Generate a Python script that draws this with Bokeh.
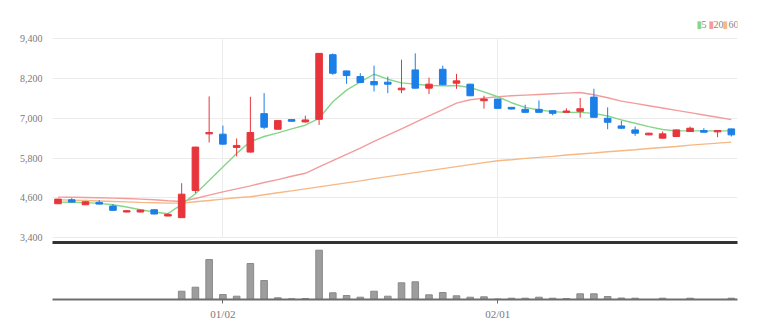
from bokeh.plotting import figure
from bokeh.layouts import column
from bokeh.models import (Range1d, FixedTicker, NumeralTickFormatter,
                          Label, ColumnDataSource, Grid)
from bokeh.embed import file_html
from bokeh.resources import INLINE

# ---------------- data ----------------
opens = [4420, 4540, 4390, 4460, 4350, 4170, 4170, 4240, 4050, 4000,
         4820, 6530, 6520, 6120, 5980, 7140, 6670, 6960, 6890, 6970,
         8920, 8430, 8260, 8110, 8090, 7860, 8460, 7910, 8480, 8060,
         8030, 7530, 7580, 7330, 7270, 7270, 7230, 7180, 7210, 7640,
         7000, 6770, 6650, 6500, 6400, 6450, 6600, 6630, 6590, 6680]
highs = [4570, 4590, 4490, 4530, 4410, 4230, 4240, 4250, 4130, 5040,
         6140, 7660, 6780, 6390, 7650, 7760, 6940, 6970, 7080, 8960,
         8960, 8440, 8360, 8590, 8260, 8770, 8960, 8230, 8590, 8340,
         8040, 7680, 7590, 7340, 7410, 7540, 7240, 7300, 7610, 7890,
         7330, 6920, 6750, 6560, 6600, 6660, 6750, 6700, 6640, 6690]
lows = [4410, 4460, 4380, 4400, 4210, 4160, 4160, 4100, 4040, 3990,
        4740, 6270, 6200, 5850, 5960, 6670, 6660, 6900, 6870, 6800,
        8310, 8040, 8060, 7810, 7760, 7760, 7900, 7730, 8000, 7890,
        7670, 7290, 7290, 7270, 7170, 7170, 7090, 7170, 7020, 7030,
        6670, 6690, 6470, 6490, 6390, 6440, 6590, 6570, 6430, 6450]
closes = [4560, 4470, 4480, 4410, 4220, 4210, 4230, 4110, 4100, 4710,
          6130, 6570, 6220, 6180, 6570, 6730, 6930, 6910, 6950, 8960,
          8360, 8290, 8080, 8010, 8030, 7910, 7910, 8030, 8010, 8130,
          7680, 7580, 7300, 7280, 7180, 7180, 7150, 7220, 7290, 7030,
          6880, 6700, 6550, 6550, 6530, 6650, 6700, 6580, 6630, 6500]
ma5 = [4470, 4465, 4455, 4430, 4390, 4320, 4240, 4170, 4120, 4400,
       4720, 5120, 5530, 5940, 6300, 6450, 6560, 6680, 6790, 7000,
       7500, 7850, 8100, 8330, 8180, 8070, 8030, 7990, 7980, 7990,
       7930, 7800, 7650, 7470, 7330, 7250, 7200, 7180, 7180, 7150,
       7070, 6950, 6850, 6750, 6660, 6620, 6620, 6620, 6620, 6620]
ma20 = [4620, 4615, 4610, 4600, 4590, 4580, 4560, 4540, 4510, 4490,
        4580, 4680, 4780, 4870, 4960, 5060, 5150, 5250, 5340, 5530,
        5720, 5910, 6100, 6300, 6490, 6680, 6880, 7070, 7260, 7460,
        7560, 7610, 7650, 7680, 7700, 7720, 7740, 7760, 7780, 7710,
        7620, 7520, 7450, 7380, 7310, 7240, 7170, 7100, 7030, 6960]
ma60 = [4540, 4530, 4520, 4505, 4490, 4475, 4460, 4450, 4440, 4440,
        4480, 4520, 4560, 4600, 4630, 4690, 4750, 4810, 4870, 4930,
        4990, 5050, 5110, 5180, 5240, 5300, 5360, 5420, 5480, 5540,
        5600, 5660, 5720, 5750, 5790, 5820, 5850, 5890, 5920, 5950,
        5990, 6020, 6050, 6090, 6120, 6150, 6190, 6220, 6250, 6280]
volumes = [0, 0, 0, 0, 0, 0, 0, 0, 0, 166000,
           246000, 800000, 100000, 66000, 720000, 380000, 34000, 14000, 20000, 986000,
           134000, 80000, 46000, 166000, 66000, 334000, 354000, 94000, 140000, 74000,
           46000, 54000, 10000, 26000, 26000, 46000, 26000, 20000, 114000, 114000,
           60000, 30000, 26000, 0, 26000, 0, 26000, 0, 0, 26000]
x_tick_positions = [12, 32]
x_tick_labels = ["01/02", "02/01"]
y_ticks = [3400, 4600, 5800, 7000, 8200, 9400]
legend_names = ["5", "20", "60"]

# ---------------- styles ----------------
RED = "#e8343b"
BLUE = "#1c7fe8"
C5, C20, C60 = "#86d68a", "#f29c9c", "#f6b885"
FONT = "Liberation Sans Narrow"

xs = list(range(len(opens)))
colors = [RED if c >= o else BLUE for o, c in zip(opens, closes)]
src = ColumnDataSource(dict(
    x=xs, o=opens, h=highs, l=lows, c=closes,
    top=[max(o, c) for o, c in zip(opens, closes)],
    bottom=[min(o, c) for o, c in zip(opens, closes)],
    color=colors, vol=volumes, ma5=ma5, ma20=ma20, ma60=ma60))

xr = Range1d(-0.4, 49.45)

# price panel: frame from y=12 to y=242 (30.19 won per pixel)
p1 = figure(width=769, height=246, x_range=xr, y_range=Range1d(3250, 10194),
            output_backend="svg", toolbar_location=None,
            min_border_left=52, min_border_right=32, min_border_top=12,
            min_border_bottom=4)
p1.outline_line_color = None
p1.yaxis.ticker = FixedTicker(ticks=y_ticks)
p1.yaxis.formatter = NumeralTickFormatter(format="0,0")
p1.yaxis.axis_line_color = None
p1.yaxis.major_tick_line_color = None
p1.yaxis.minor_tick_line_color = None
p1.yaxis.major_label_standoff = 4
p1.yaxis.major_label_text_font = FONT
p1.yaxis.major_label_text_font_size = "10px"
p1.yaxis.major_label_text_color = "#7a7a7a"
p1.ygrid.grid_line_color = "#ececec"

# bottom axis of price panel: only the thick dark separator line, no ticks/labels
p1.xaxis.ticker = FixedTicker(ticks=[])
p1.xaxis.axis_line_color = "#333333"
p1.xaxis.axis_line_width = 3
p1.xaxis.major_tick_line_color = None
p1.xaxis.minor_tick_line_color = None
p1.xaxis.major_label_text_font_size = "0px"
p1.xaxis.major_label_standoff = 0
p1.xaxis.major_tick_out = 0
p1.xaxis.major_tick_in = 0
p1.xaxis.minor_tick_out = 0
p1.xaxis.minor_tick_in = 0
p1.xgrid.ticker = FixedTicker(ticks=x_tick_positions)
p1.xgrid.grid_line_color = "#ececec"
if "cross_bounds" in Grid.properties():
    p1.xgrid.cross_bounds = (y_ticks[0], y_ticks[-1])

p1.line("x", "ma60", source=src, line_color=C60, line_width=1.4)
p1.line("x", "ma20", source=src, line_color=C20, line_width=1.4)
p1.line("x", "ma5", source=src, line_color=C5, line_width=1.4)
p1.segment("x", "h", "x", "l", source=src, line_color="color", line_width=1)
p1.vbar(x="x", width=0.48, top="top", bottom="bottom", source=src,
        fill_color="color", line_color="color", line_width=1)

# legend (top right), screen units relative to the frame (bottom at y=242)
leg_items = [(644, "\u25ae", C5), (649, legend_names[0], "#888888"),
             (656, "\u25ae", C20), (661, legend_names[1], "#888888"),
             (670, "\u25ae", C60), (676, legend_names[2], "#888888")]
for lx, txt, col in leg_items:
    p1.add_layout(Label(x=lx, y=218, x_units="screen", y_units="screen", text=txt,
                        text_color=col, text_font_size="10px",
                        text_font=("DejaVu Sans" if txt == "\u25ae" else FONT),
                        text_baseline="middle", text_align="left"))

# volume panel: frame from y=246 to y=299
p2 = figure(width=769, height=90, x_range=xr, y_range=Range1d(0, 1060000),
            output_backend="svg", toolbar_location=None, y_axis_location=None,
            min_border_left=52, min_border_right=32, min_border_top=0,
            min_border_bottom=37)
p2.outline_line_color = None
p2.grid.visible = False
p2.xaxis.ticker = FixedTicker(ticks=x_tick_positions)
p2.xaxis.major_label_overrides = dict(zip(x_tick_positions, x_tick_labels))
p2.xaxis.axis_line_color = "#6e6e6e"
p2.xaxis.axis_line_width = 2
p2.xaxis.major_tick_line_color = "#666666"
p2.xaxis.major_tick_out = 4
p2.xaxis.major_tick_in = 0
p2.xaxis.minor_tick_line_color = None
p2.xaxis.major_label_standoff = 4
p2.xaxis.major_label_text_font = FONT
p2.xaxis.major_label_text_font_size = "11px"
p2.xaxis.major_label_text_color = "#7a7a7a"

p2.vbar(x="x", width=0.48, top="vol", bottom=0, source=src,
        fill_color="#9d9d9d", line_color="#8a8a8a", line_width=1)

layout = column(p1, p2, spacing=0)
open("out.html", "w").write(file_html(layout, INLINE))
